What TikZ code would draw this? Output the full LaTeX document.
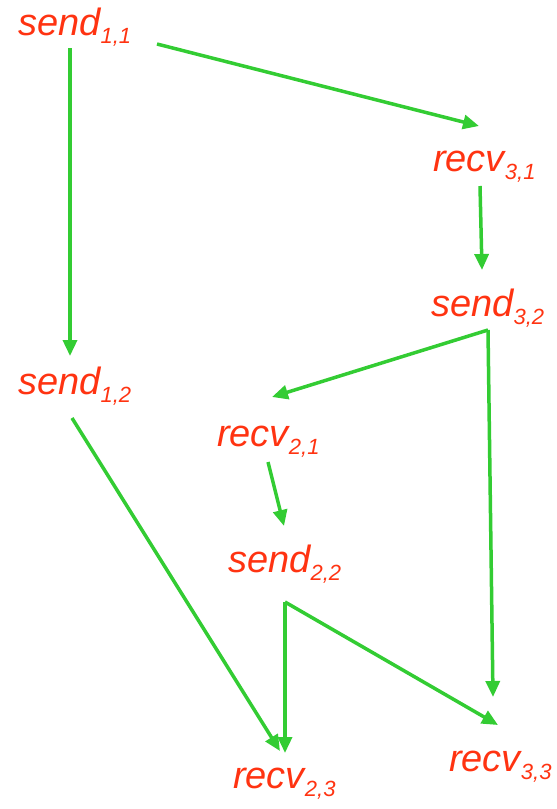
\documentclass[tikz,border=0pt]{standalone}
\usepackage{fontspec}
\setmainfont{Liberation Sans}
\usetikzlibrary{arrows.meta}
\definecolor{lblred}{HTML}{FF3311}
\definecolor{arrgreen}{HTML}{33CC33}
\newcommand{\evlabel}[2]{\itshape\fontsize{38}{38}\selectfont #1\raisebox{-8pt}{\fontsize{22}{22}\selectfont #2}}
\tikzset{
  ev/.style={anchor=base west, inner sep=0pt, text=lblred},
  flow/.style={draw=arrgreen, line width=3.5pt, -{Triangle[length=16pt,width=14pt]}}
}
\begin{document}
\begin{tikzpicture}[x=1pt,y=-1pt]
\useasboundingbox (0,0) rectangle (557,809);
\node[ev] (s11) at (18,35) {\evlabel{send}{1,1}};
\node[ev] (r31) at (433,171) {\evlabel{recv}{3,1}};
\node[ev] (s32) at (431,316) {\evlabel{send}{3,2}};
\node[ev] (s12) at (18,394) {\evlabel{send}{1,2}};
\node[ev] (r21) at (217,446) {\evlabel{recv}{2,1}};
\node[ev] (s22) at (228,572) {\evlabel{send}{2,2}};
\node[ev] (r23) at (233,788) {\evlabel{recv}{2,3}};
\node[ev] (r33) at (449,771) {\evlabel{recv}{3,3}};
% connector end points
\coordinate (s11a) at (70,48);
\coordinate (s11b) at (157,44);
\coordinate (s12in) at (70,356);
\coordinate (r31in) at (479,126);
\coordinate (r31out) at (480,186);
\coordinate (s32in) at (482,270);
\coordinate (s32out) at (488,330);
\coordinate (r21in) at (272,397);
\coordinate (r33ina) at (493,697);
\coordinate (s12out) at (72,418);
\coordinate (r23ina) at (280,751);
\coordinate (r21out) at (268,462);
\coordinate (s22in) at (284,526);
\coordinate (s22out) at (285,602);
\coordinate (r23inb) at (285,753);
\coordinate (r33inb) at (498,725);
\draw[flow] (s11a) -- (s12in);
\draw[flow] (s11b) -- (r31in);
\draw[flow] (r31out) -- (s32in);
\draw[flow] (s32out) -- (r21in);
\draw[flow] (s32out) -- (r33ina);
\draw[flow] (s12out) -- (r23ina);
\draw[flow] (r21out) -- (s22in);
\draw[flow] (s22out) -- (r23inb);
\draw[flow] (s22out) -- (r33inb);
\end{tikzpicture}
\end{document}
